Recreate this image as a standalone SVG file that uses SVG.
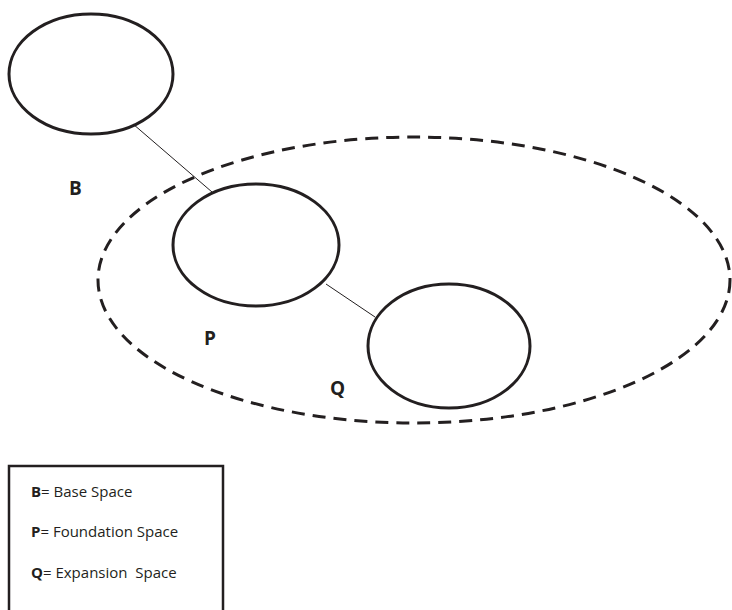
<svg xmlns="http://www.w3.org/2000/svg" width="732" height="610" viewBox="0 0 732 610">
<style>
.node{fill:none;stroke:#231f20;stroke-width:3}
.region{fill:none;stroke:#231f20;stroke-width:3;stroke-dasharray:13 8}
.conn{stroke:#231f20;stroke-width:1;fill:none}
.lbl{font-family:"Open Sans","Liberation Sans",sans-serif;font-weight:bold;font-size:19px;fill:#231f20}
.leg{font-family:"Open Sans","Liberation Sans",sans-serif;font-size:15px;fill:#231f20}
</style>
<rect width="732" height="610" fill="#fff"/>
<g id="region-dashed"><ellipse class="region" cx="414" cy="280" rx="316" ry="143"/></g>
<g id="connectors">
<line class="conn" x1="133" y1="124" x2="212" y2="192"/>
<line class="conn" x1="326" y1="284" x2="375" y2="317"/>
</g>
<g id="node-B"><ellipse class="node" cx="91" cy="74" rx="82" ry="60"/><text class="lbl" x="69" y="195">B</text></g>
<g id="node-P"><ellipse class="node" cx="256" cy="245" rx="83" ry="61"/><text class="lbl" x="204" y="345">P</text></g>
<g id="node-Q"><ellipse class="node" cx="449" cy="346" rx="81" ry="62"/><text class="lbl" x="330" y="395">Q</text></g>
<g id="legend">
<rect x="9" y="466" width="214" height="160" fill="none" stroke="#231f20" stroke-width="2.5"/>
<text class="leg" x="31" y="497"><tspan font-weight="bold">B</tspan>= Base Space</text>
<text class="leg" x="31" y="537"><tspan font-weight="bold">P</tspan>= Foundation Space</text>
<text class="leg" x="31" y="578" xml:space="preserve"><tspan font-weight="bold">Q</tspan>= Expansion  Space</text>
</g>
</svg>
